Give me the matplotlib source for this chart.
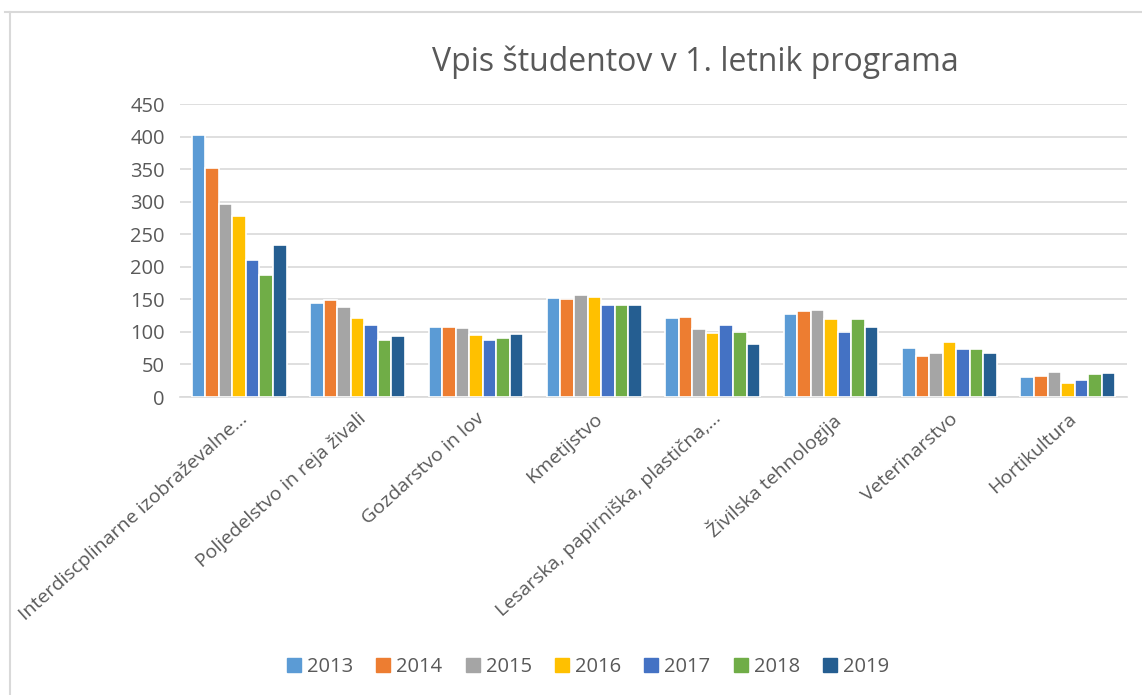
import matplotlib
matplotlib.use("Agg")
import matplotlib.pyplot as plt
import numpy as np
from matplotlib.lines import Line2D

categories = [
    "Interdiscplinarne izobraževalne...",
    "Poljedelstvo in reja živali",
    "Gozdarstvo in lov",
    "Kmetijstvo",
    "Lesarska, papirniška, plastična,...",
    "Živilska tehnologija",
    "Veterinarstvo",
    "Hortikultura",
]
years = ["2013", "2014", "2015", "2016", "2017", "2018", "2019"]
v2013 = [403, 145, 108, 152, 121, 127, 75, 30]
v2014 = [352, 149, 108, 150, 123, 132, 63, 33]
v2015 = [296, 138, 106, 156, 105, 134, 68, 39]
v2016 = [278, 121, 95, 154, 99, 120, 85, 22]
v2017 = [211, 110, 88, 142, 110, 100, 73, 26]
v2018 = [187, 87, 90, 142, 100, 120, 73, 35]
v2019 = [234, 94, 97, 142, 81, 107, 68, 37]
series = [v2013, v2014, v2015, v2016, v2017, v2018, v2019]
colors = ["#5B9BD5", "#ED7D31", "#A5A5A5", "#FFC000", "#4472C4", "#70AD47", "#255E91"]
yticks = [0, 50, 100, 150, 200, 250, 300, 350, 400, 450]

plt.rcParams['font.family'] = ['Open Sans', 'DejaVu Sans']
txt = "#595959"

fig = plt.figure(figsize=(11.42, 6.95), dpi=100)
ax = fig.add_axes([180/1142, 1-397/695, (1127-180)/1142, (397-104)/695])

n = len(series)
slot = 0.8 / n
x = np.arange(len(categories))
for i, (vals, c) in enumerate(zip(series, colors)):
    ax.bar(x - 0.4 + slot*(i+0.5), vals, width=slot, color=c,
           edgecolor="white", linewidth=1.2, label=years[i], zorder=3)

ax.set_xlim(-0.5, len(categories)-0.5)
ax.set_ylim(0, 450)
ax.set_yticks(yticks)
ax.yaxis.grid(True, color="#D9D9D9", linewidth=1.2, zorder=0)
ax.set_axisbelow(True)
for s in ["top", "right", "left"]:
    ax.spines[s].set_visible(False)
ax.spines["bottom"].set_color("#D9D9D9")
ax.spines["bottom"].set_linewidth(1.2)
ax.tick_params(axis="both", length=0, colors=txt, labelsize=14.5)
ax.tick_params(axis="y", pad=11)
ax.set_xticks(x)
ax.set_xticklabels(categories, rotation=42, ha="right", rotation_mode="anchor",
                   fontsize=14, color=txt)
ax.tick_params(axis="x", pad=9)

fig.text(695/1142, 1-62/695, "Vpis študentov v 1. letnik programa", ha="center", va="center",
         fontsize=23, color=txt)

handles = [Line2D([0], [0], marker="s", linestyle="", markersize=10,
                  markerfacecolor=c, markeredgecolor=c) for c in colors]
fig.legend(handles, years, loc="center", bbox_to_anchor=(588/1142, 1-667/695), ncol=7,
           frameon=False, fontsize=14.5, labelcolor=txt, handletextpad=0.3,
           columnspacing=1.15, handlelength=0.7)

# chart border
fig.add_artist(Line2D([5/1142, 1], [1-12/695, 1-12/695], color="#D9D9D9", linewidth=1.5,
                      transform=fig.transFigure))
fig.add_artist(Line2D([9.5/1142, 9.5/1142], [0, 1-12/695], color="#D9D9D9", linewidth=1.5,
                      transform=fig.transFigure))

fig.savefig("out.png", dpi=100, facecolor="white")
